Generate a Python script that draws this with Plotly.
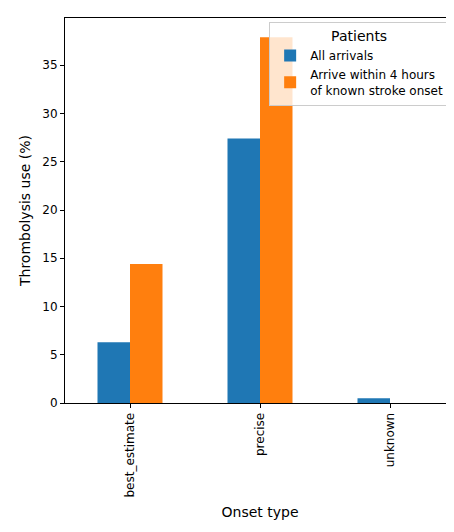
import plotly.graph_objects as go

onset_types = ["best_estimate", "precise", "unknown"]
all_arrivals = [6.3, 27.4, 0.5]
within_4h = [14.4, 37.9, 0.0]

fig = go.Figure()
fig.add_trace(go.Bar(x=onset_types, y=all_arrivals, name="All arrivals",
                     marker=dict(color="#1f77b4", line_width=0)))
fig.add_trace(go.Bar(x=onset_types, y=within_4h,
                     name="Arrive within 4 hours<br>of known stroke onset",
                     marker=dict(color="#ff7f0e", line_width=0)))

axis = dict(showline=True, linecolor="black", linewidth=1, mirror=True,
            ticks="outside", ticklen=4, tickcolor="black", showgrid=False,
            zeroline=False, automargin=False)
fig.update_layout(
    width=454, height=532,
    margin=dict(l=57, r=7, t=10, b=137, autoexpand=False),
    paper_bgcolor="white", plot_bgcolor="white",
    font=dict(family="DejaVu Sans", size=12, color="black"),
    barmode="group", bargap=0.5, bargroupgap=0,
    legend=dict(x=0.985, y=0.99, xanchor="right", yanchor="top",
                bgcolor="rgba(255,255,255,0.8)", bordercolor="#cccccc",
                borderwidth=1, title=dict(text="Patients", side="top center"),
                font=dict(size=12), itemwidth=30),
    xaxis=dict(axis, title=dict(text="Onset type", standoff=10),
               tickangle=-90, range=[-0.5, 2.5]),
    yaxis=dict(axis, title=dict(text="Thrombolysis use (%)", standoff=8),
               range=[0, 39.9], dtick=5),
)
fig.write_html("out.html")
